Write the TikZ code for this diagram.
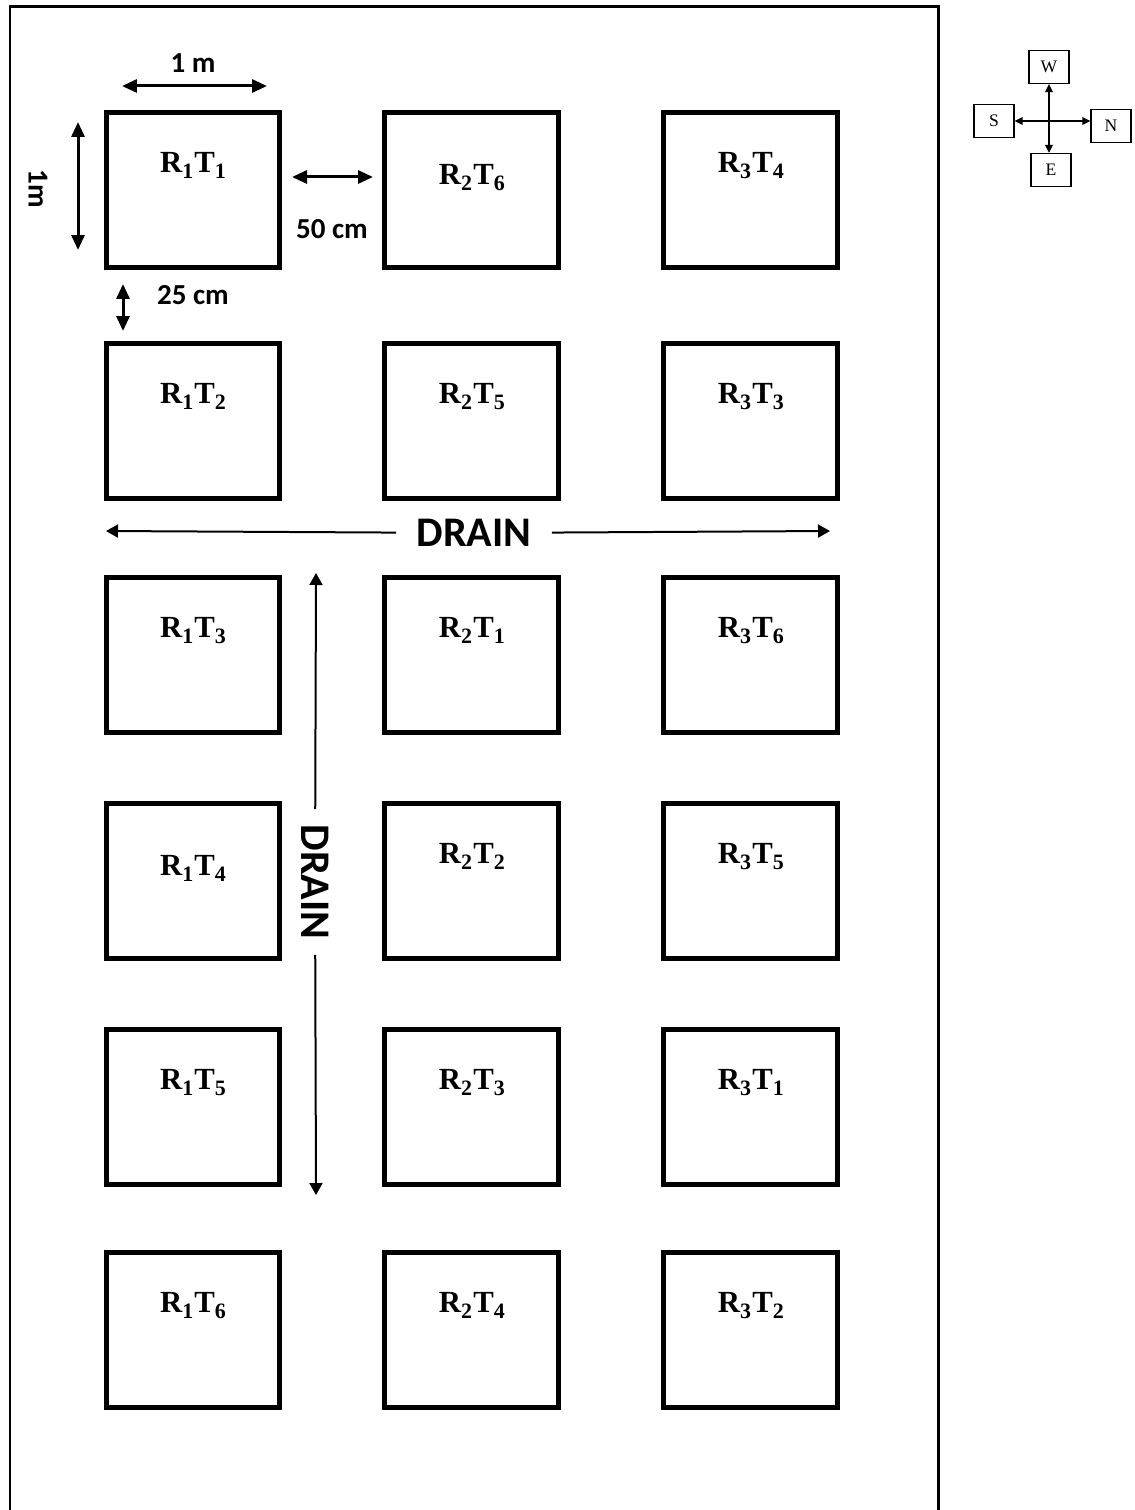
\documentclass[tikz,border=0pt]{standalone}
\usepackage{fontspec}
\setmainfont{Liberation Serif}
\setsansfont{Carlito}
\usepackage{tikz}
\usetikzlibrary{positioning, arrows.meta}
\newcommand{\plotsub}[1]{\raisebox{-0.18em}{\fontsize{12.5pt}{14pt}\selectfont #1}}
\newcommand{\plotid}[2]{R\plotsub{#1}\kern0.04em T\plotsub{#2}}
\newcommand{\dimsize}{\fontsize{16.5pt}{20pt}\selectfont}
\tikzset{
  % Experimental plot square
  plotbox/.style={
    rectangle, draw=black, line width=0.1cm,
    minimum width=3.48cm, minimum height=3.1cm, inner sep=0pt
  },
  % Plot name inside the square, near its top
  plotlbl/.style={
    anchor=north, inner sep=0pt, yshift=-0.84cm,
    font=\fontsize{17.5pt}{20pt}\selectfont\bfseries
  },
  % Measurement arrows and their texts
  dimarr/.style={{Triangle[length=0.3cm, width=0.26cm]}-{Triangle[length=0.3cm, width=0.26cm]}, line width=0.06cm},
  dimlbl/.style={inner sep=0pt, font=\sffamily\bfseries\dimsize},
  % Drain arrows and label
  drainarr/.style={-{Triangle[length=0.24cm, width=0.26cm]}, line width=0.04cm},
  drainlbl/.style={inner xsep=0.4cm, inner ysep=0pt, font=\sffamily\bfseries\fontsize{24pt}{28pt}\selectfont},
  % Compass boxes and arrows
  dirbox/.style={rectangle, draw=black, line width=0.025cm, minimum width=0.8cm, minimum height=0.66cm,
    inner sep=0pt, font=\fontsize{10pt}{12pt}\selectfont},
  dirarr/.style={{Triangle[length=0.16cm, width=0.15cm]}-{Triangle[length=0.16cm, width=0.15cm]}, line width=0.03cm},
}

\begin{document}
\begin{tikzpicture}[x=0.02cm, y=-0.02cm, node distance=2cm]
  \useasboundingbox (0,0) rectangle (1134,1510);
  % field border, open at the bottom
  \draw[line width=0.06cm] (10,1510) -- (10,7) -- (938,7) -- (938,1510);

  % row 1
  \node[plotbox, label={[plotlbl]north:\plotid{1}{1}}] (r1t1) at (193,190) {};
  \node[plotbox, right=of r1t1, label={[plotlbl, yshift=-0.24cm]north:\plotid{2}{6}}] (r2t6) {};
  \node[plotbox, right=of r2t6, label={[plotlbl]north:\plotid{3}{4}}] (r3t4) {};
  % row 2
  \node[plotbox, label={[plotlbl]north:\plotid{1}{2}}] (r1t2) at (193,421) {};
  \node[plotbox, right=of r1t2, label={[plotlbl]north:\plotid{2}{5}}] (r2t5) {};
  \node[plotbox, right=of r2t5, label={[plotlbl]north:\plotid{3}{3}}] (r3t3) {};
  % row 3
  \node[plotbox, label={[plotlbl]north:\plotid{1}{3}}] (r1t3) at (193,655) {};
  \node[plotbox, right=of r1t3, label={[plotlbl]north:\plotid{2}{1}}] (r2t1) {};
  \node[plotbox, right=of r2t1, label={[plotlbl]north:\plotid{3}{6}}] (r3t6) {};
  % row 4
  \node[plotbox, label={[plotlbl, yshift=-0.24cm]north:\plotid{1}{4}}] (r1t4) at (193,881) {};
  \node[plotbox, right=of r1t4, label={[plotlbl]north:\plotid{2}{2}}] (r2t2) {};
  \node[plotbox, right=of r2t2, label={[plotlbl]north:\plotid{3}{5}}] (r3t5) {};
  % row 5
  \node[plotbox, label={[plotlbl]north:\plotid{1}{5}}] (r1t5) at (193,1107) {};
  \node[plotbox, right=of r1t5, label={[plotlbl]north:\plotid{2}{3}}] (r2t3) {};
  \node[plotbox, right=of r2t3, label={[plotlbl]north:\plotid{3}{1}}] (r3t1) {};
  % row 6
  \node[plotbox, label={[plotlbl]north:\plotid{1}{6}}] (r1t6) at (193,1330) {};
  \node[plotbox, right=of r1t6, label={[plotlbl]north:\plotid{2}{4}}] (r2t4) {};
  \node[plotbox, right=of r2t4, label={[plotlbl]north:\plotid{3}{2}}] (r3t2) {};

  % measurements
  \coordinate (widthl) at (122,86);
  \coordinate (widthr) at (267,86);
  \draw[dimarr] (widthl) -- (widthr);
  \node[dimlbl] (widthtxt) at (193,63) {1 m};
  \coordinate (heightt) at (78,122);
  \coordinate (heightb) at (78,250);
  \draw[dimarr] (heightt) -- (heightb);
  \node[dimlbl, rotate=-90] (heighttxt) at (38,189) {1m};
  \coordinate (gapl) at (292,177);
  \coordinate (gapr) at (373,177);
  \draw[dimarr] (gapl) -- (gapr);
  \node[dimlbl] (gaptxt) at (332,229) {50 cm};
  \coordinate (rowgapt) at (123,284);
  \coordinate (rowgapb) at (123,331);
  \draw[dimarr] (rowgapt) -- (rowgapb);
  \node[dimlbl] (rowgaptxt) at (193,295) {25 cm};

  % drains
  \node[drainlbl] (drainh) at (474,533) {DRAIN};
  \coordinate (drainw) at (106,531);
  \coordinate (draine) at (830,531);
  \draw[drainarr] (drainh) -- (drainw);
  \draw[drainarr] (drainh) -- (draine);
  \node[drainlbl, inner xsep=0.3cm, rotate=-90] (drainv) at (315,882) {DRAIN};
  \coordinate (drainn) at (316,573);
  \coordinate (drains) at (316,1195);
  \draw[drainarr] (drainv) -- (drainn);
  \draw[drainarr] (drainv) -- (drains);

  % compass
  \node[dirbox] (west) at (1049,67) {W};
  \node[dirbox] (south) at (994,121) {S};
  \node[dirbox] (north) at (1111,126) {N};
  \node[dirbox] (east) at (1051,170) {E};
  \draw[dirarr] (west) -- (west |- east.north);
  \draw[dirarr] (south) -- (south -| north.west);
\end{tikzpicture}
\end{document}
